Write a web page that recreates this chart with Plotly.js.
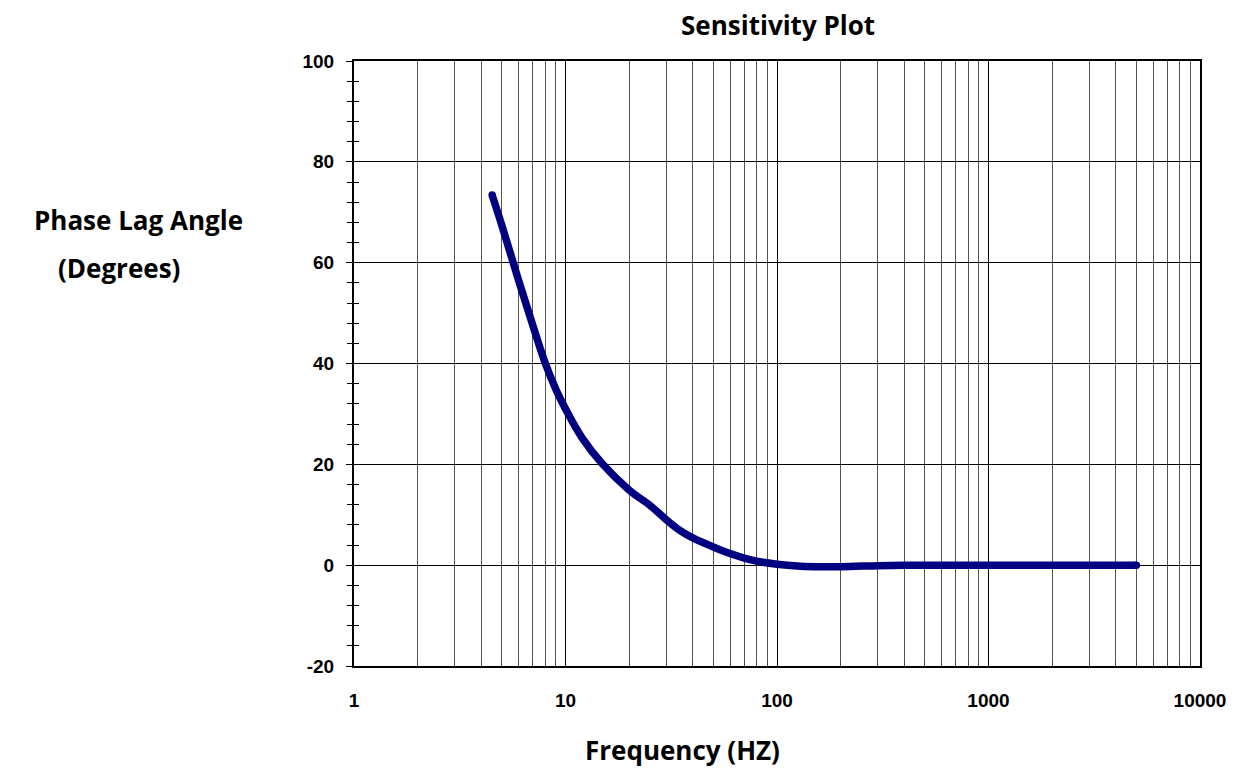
<!DOCTYPE html>
<html>
<head>
<meta charset="utf-8">
<script src="https://cdn.plot.ly/plotly-3.0.1.min.js"></script>
<style>html,body{margin:0;padding:0;background:#fff;}#chart{width:1237px;height:770px;}</style>
</head>
<body>
<div id="chart"></div>
<script>
// Data
const frequencyHz = [4.5, 5, 6, 7, 8, 9, 10, 12, 15, 20, 25, 30, 35, 40, 50, 60, 70, 80, 100, 120, 150, 200, 300, 400, 500, 1000, 2000, 5000];
const phaseLagDeg = [73.4, 67.4, 56.5, 47.6, 40.2, 34.9, 31, 25.2, 20, 14.9, 11.9, 9, 6.8, 5.4, 3.6, 2.3, 1.4, 0.8, 0.2, -0.1, -0.3, -0.3, -0.1, 0, 0, 0, 0, 0];
const xTickVals = [1, 10, 100, 1000, 10000];
const xTickText = ["1", "10", "100", "1000", "10000"];
const yTickVals = [-20, 0, 20, 40, 60, 80, 100];
const yTickText = ["-20", "0", "20", "40", "60", "80", "100"];
const xMinorVals = [];
[1, 10, 100, 1000].forEach(function (d) { for (let k = 2; k <= 9; k++) xMinorVals.push(k * d); });
const lastIdx = frequencyHz.length - 1;

const tickFont = {family: "Liberation Sans, Arial, sans-serif", size: 19, color: "#000", weight: 700};
const titleFont = {family: "Open Sans, Lato, sans-serif", size: 26, color: "#000", weight: 700};

const traces = [
  {
    x: frequencyHz, y: phaseLagDeg, type: "scatter", mode: "lines",
    line: {color: "#000080", width: 7.5, shape: "spline", smoothing: 1},
    showlegend: false, hoverinfo: "x+y"
  },
  {
    x: [frequencyHz[0], frequencyHz[lastIdx]], y: [phaseLagDeg[0], phaseLagDeg[lastIdx]],
    type: "scatter", mode: "markers", marker: {color: "#000080", size: 7.5},
    showlegend: false, hoverinfo: "skip"
  },
  {x: [], y: [], yaxis: "y2", type: "scatter", showlegend: false, hoverinfo: "skip"}
];

const layout = {
  width: 1237, height: 770,
  paper_bgcolor: "#fff", plot_bgcolor: "#fff",
  margin: {l: 354, r: 37, t: 61, b: 104},
  title: {text: "Sensitivity Plot", font: titleFont, x: 0.629, xanchor: "center", y: 0.967, yanchor: "middle", yref: "container"},
  xaxis: {
    type: "log", range: [0, 4],
    tickmode: "array", tickvals: xTickVals, ticktext: xTickText,
    ticks: "inside", ticklen: 5, tickcolor: "#000", tickwidth: 1,
    showgrid: true, gridcolor: "#000", gridwidth: 1,
    minor: {tickmode: "array", tickvals: xMinorVals, showgrid: true, gridcolor: "#555", gridwidth: 1, ticks: "inside", ticklen: 4, tickcolor: "#444"},
    showline: true, linecolor: "#000", linewidth: 2, mirror: true,
    zeroline: false, tickfont: tickFont, ticklabelstandoff: 16
  },
  yaxis: {
    range: [-20, 100], tickmode: "array", tickvals: yTickVals, ticktext: yTickText,
    ticks: "outside", ticklen: 6, tickcolor: "#000", tickwidth: 1,
    minor: {dtick: 4, tick0: 0, ticks: "outside", ticklen: 5, tickcolor: "#000", showgrid: false},
    showgrid: true, gridcolor: "#000", gridwidth: 1,
    showline: true, linecolor: "#000", linewidth: 2, mirror: true,
    zeroline: false, tickfont: tickFont, ticklabelstandoff: 8
  },
  yaxis2: {
    overlaying: "y", matches: "y", side: "left",
    showgrid: false, showticklabels: false, zeroline: false, ticks: "",
    minor: {dtick: 4, tick0: 0, ticks: "inside", ticklen: 5, tickcolor: "#000", showgrid: false}
  },
  annotations: [
    {text: "Phase Lag Angle", xref: "paper", yref: "paper", x: -0.2546, y: 0.7372,
     xanchor: "center", yanchor: "middle", showarrow: false, font: titleFont},
    {text: "(Degrees)", xref: "paper", yref: "paper", x: -0.2782, y: 0.6578,
     xanchor: "center", yanchor: "middle", showarrow: false, font: titleFont},
    {text: "Frequency (HZ)", xref: "paper", yref: "paper", x: 0.3884, y: 0, yshift: -84,
     xanchor: "center", yanchor: "middle", showarrow: false, font: titleFont}
  ]
};

Plotly.newPlot("chart", traces, layout, {displayModeBar: false, responsive: false});
</script>
</body>
</html>
